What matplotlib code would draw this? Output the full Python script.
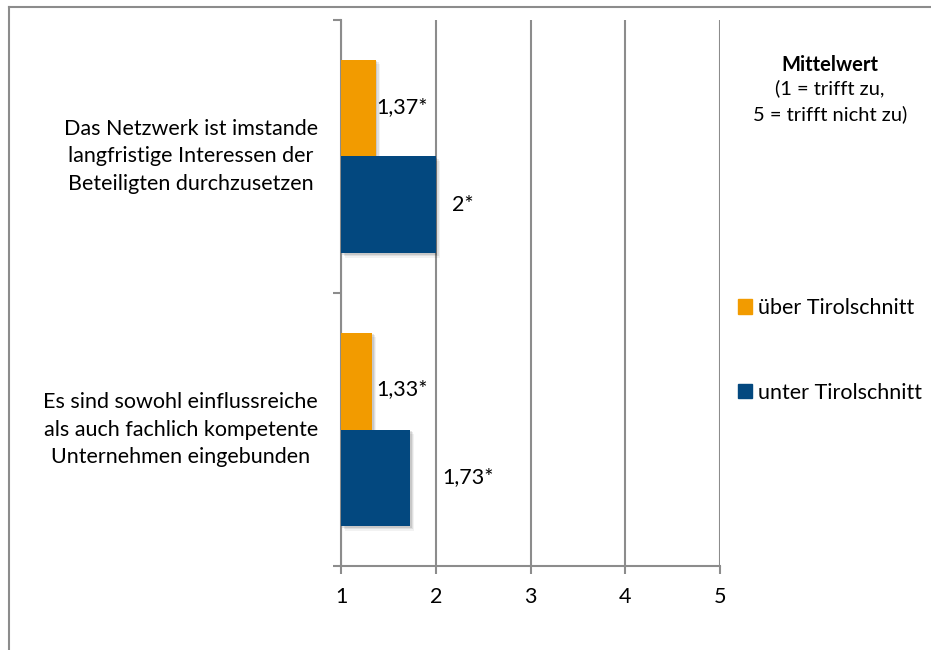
import matplotlib
matplotlib.use("Agg")
import matplotlib.pyplot as plt
from matplotlib.lines import Line2D
import matplotlib.patheffects as pe

plt.rcParams['font.family'] = ['Lato', 'DejaVu Sans']

# Data
categories = [
    "Das Netzwerk ist imstande\nlangfristige Interessen der\nBeteiligten durchzusetzen",
    "Es sind sowohl einflussreiche\nals auch fachlich kompetente\nUnternehmen eingebunden",
]
series_names = ["über Tirolschnitt", "unter Tirolschnitt"]
ueber = [1.37, 1.33]
unter = [2.0, 1.73]
value_labels_ueber = ["1,37*", "1,33*"]
value_labels_unter = ["2*", "1,73*"]
x_ticks = [1, 2, 3, 4, 5]

orange = "#F29B00"
blue = "#03487F"
grid_c = "#8C8C8C"
fs = 15.5

fig = plt.figure(figsize=(9.31, 6.5), dpi=100)
ax = fig.add_axes([341 / 931, 1 - 566 / 650, 379 / 931, 546 / 650])

# top category drawn at y=1, bottom at y=0
ypos = [1, 0]
h = 0.355
shadow = [
    pe.SimplePatchShadow(offset=(3, -3), shadow_rgbFace="#000000", alpha=0.05),
    pe.SimplePatchShadow(offset=(2, -2), shadow_rgbFace="#000000", alpha=0.08),
    pe.SimplePatchShadow(offset=(1, -1), shadow_rgbFace="#000000", alpha=0.1),
    pe.Normal(),
]

for yc, vo, vu in zip(ypos, ueber, unter):
    ax.barh(yc + h / 2, vo - 1, height=h, left=1, color=orange, path_effects=shadow, zorder=3)
    ax.barh(yc - h / 2, vu - 1, height=h, left=1, color=blue, path_effects=shadow, zorder=3)

# value labels, nudged individually
off_o = [(0, 1), (4, -8)]
off_u = [(16, 0), (32, 1)]
for yc, vo, vu, lo, lu, oo, ou in zip(ypos, ueber, unter, value_labels_ueber, value_labels_unter, off_o, off_u):
    ax.annotate(lo, xy=(vo, yc + h / 2), xytext=oo, textcoords="offset pixels",
                ha="left", va="center", fontsize=fs, zorder=5)
    ax.annotate(lu, xy=(vu, yc - h / 2), xytext=ou, textcoords="offset pixels",
                ha="left", va="center", fontsize=fs, zorder=5)

# category labels
for yc, cat in zip(ypos, categories):
    ax.annotate(cat, xy=(0, yc), xycoords=("axes fraction", "data"), xytext=(-23, 0),
                textcoords="offset pixels", ha="right", va="center", multialignment="center",
                fontsize=fs, linespacing=1.45)

ax.set_xlim(1, 5)
ax.set_ylim(-0.5, 1.5)
ax.set_xticks(x_ticks)
ax.set_xticklabels([str(t) for t in x_ticks], fontsize=fs)
ax.set_yticks([-0.5, 0.5, 1.5])
ax.set_yticklabels([])
ax.xaxis.grid(True, color=grid_c, linewidth=1.5, zorder=0)
ax.set_axisbelow(True)
for s in ["top", "right"]:
    ax.spines[s].set_visible(False)
for s in ["left", "bottom"]:
    ax.spines[s].set_color(grid_c)
    ax.spines[s].set_linewidth(1.5)
ax.tick_params(axis="x", length=6, width=1.5, color=grid_c, pad=9)
ax.tick_params(axis="y", length=6, width=1.5, color=grid_c)

# legend
handles = [plt.Rectangle((0, 0), 1, 1, color=orange), plt.Rectangle((0, 0), 1, 1, color=blue)]
fig.legend(handles, series_names, loc="upper left", bbox_to_anchor=(738 / 931, 1 - 298 / 650),
           frameon=False, fontsize=fs, handlelength=0.65, handleheight=0.65, handletextpad=0.3,
           labelspacing=3.0, borderaxespad=0, borderpad=0)

fig.text(830 / 931, 1 - 65 / 650, "Mittelwert", ha="center", va="center", fontsize=14.5, fontweight="bold")
fig.text(830 / 931, 1 - 101 / 650, "(1 = trifft zu,\n5 = trifft nicht zu)", ha="center", va="center",
         fontsize=14.5, linespacing=1.55)

# outer frame
fig.add_artist(Line2D([9 / 931, 9 / 931], [0, 1 - 7 / 650], color="#8C8C8C", linewidth=1.5))
fig.add_artist(Line2D([9 / 931, 930 / 931], [1 - 7 / 650, 1 - 7 / 650], color="#8C8C8C", linewidth=1.5))

fig.savefig("out.png", dpi=100, facecolor="white")
